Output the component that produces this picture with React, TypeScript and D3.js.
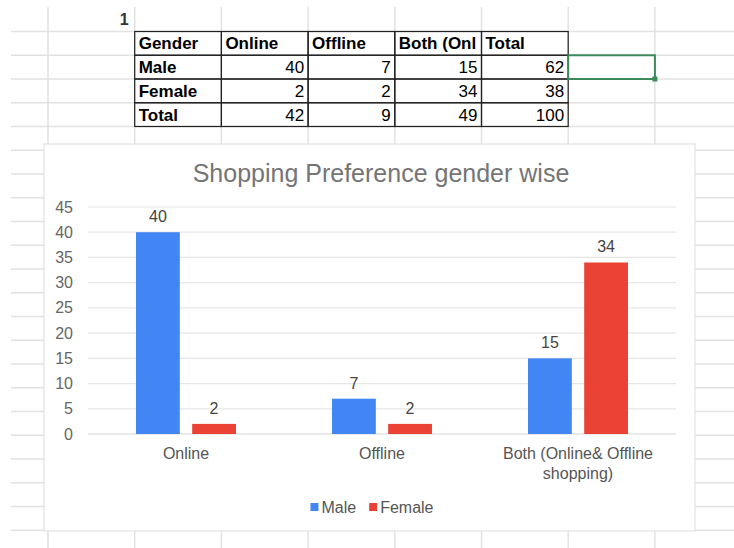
import React, { useEffect, useRef } from "react";
import * as d3 from "d3";

// chart data
const categories = ["Online", "Offline", "Both (Online& Offline shopping)"];
const categoryLines = [["Online"], ["Offline"], ["Both (Online& Offline", "shopping)"]];
const seriesNames = ["Male", "Female"];
const maleValues = [40, 7, 15];
const femaleValues = [2, 2, 34];
const yTicks = [0, 5, 10, 15, 20, 25, 30, 35, 40, 45];
const seriesColors = ["#4285f4", "#ea4335"];

// sheet table data
const cornerValue = "1";
const tableHeader = ["Gender", "Online", "Offline", "Both (Online& Offline shopping)", "Total"];
const tableRowLabels = ["Male", "Female", "Total"];
const tableMale = [40, 7, 15, 62];
const tableFemale = [2, 2, 34, 38];
const tableTotal = [42, 9, 49, 100];

const W = 734;
const H = 548;
const FONT = "'Liberation Sans', Arial, sans-serif";

const App = () => {
  const svgRef = useRef(null);

  useEffect(() => {
    const svg = d3.select(svgRef.current);
    svg.selectAll("*").remove();
    svg.append("rect").attr("width", W).attr("height", H).attr("fill", "#fff");

    // Spreadsheet grid
    const colX = d3.scaleLinear().domain([0, 1]).range([48, 134.7]);
    const rowY = d3.scaleLinear().domain([0, 1]).range([31.5, 55.25]);
    const grid = svg.append("g").attr("stroke", "#e2e2e2").attr("stroke-width", 1.5);
    d3.range(0, 22).forEach((k) =>
      grid.append("line").attr("x1", 11).attr("x2", W).attr("y1", rowY(k)).attr("y2", rowY(k))
    );
    d3.range(0, 8).forEach((i) =>
      grid.append("line").attr("x1", colX(i)).attr("x2", colX(i)).attr("y1", 7).attr("y2", H)
    );

    // Corner value
    svg
      .append("text")
      .attr("x", colX(1) - 6)
      .attr("y", 25)
      .attr("text-anchor", "end")
      .attr("font-family", FONT)
      .attr("font-size", 16)
      .attr("font-weight", "bold")
      .attr("fill", "#333")
      .text(cornerValue);

    // Table
    const table = svg.append("g").attr("font-family", FONT).attr("font-size", 17).attr("fill", "#000");
    tableHeader.forEach((h, i) => {
      const x0 = colX(i + 1);
      const x1 = colX(i + 2);
      const t = table
        .append("text")
        .attr("x", x0 + 4)
        .attr("y", rowY(1) - 6)
        .attr("font-weight", "bold")
        .text(h);
      // cut overflowing text at the cell edge, like the sheet does
      let s = h;
      while (s.length > 1 && t.node().getComputedTextLength() > x1 - x0 - 5) {
        s = s.slice(0, -1);
        t.text(s);
      }
    });
    [tableMale, tableFemale, tableTotal].forEach((row, r) => {
      table
        .append("text")
        .attr("x", colX(1) + 4)
        .attr("y", rowY(r + 2) - 6)
        .attr("font-weight", "bold")
        .text(tableRowLabels[r]);
      row.forEach((v, i) => {
        table
          .append("text")
          .attr("x", colX(i + 3) - 4)
          .attr("y", rowY(r + 2) - 6)
          .attr("text-anchor", "end")
          .text(v);
      });
    });
    const borders = svg.append("g").attr("fill", "none").attr("stroke", "#222").attr("stroke-width", 1.2);
    d3.range(0, 4).forEach((r) =>
      d3.range(0, 5).forEach((i) =>
        borders
          .append("rect")
          .attr("x", colX(i + 1))
          .attr("y", rowY(r))
          .attr("width", colX(i + 2) - colX(i + 1))
          .attr("height", rowY(r + 1) - rowY(r))
      )
    );

    // Selected cell
    svg
      .append("rect")
      .attr("x", colX(6))
      .attr("y", rowY(1))
      .attr("width", colX(7) - colX(6))
      .attr("height", rowY(2) - rowY(1))
      .attr("fill", "none")
      .attr("stroke", "#3b8a5c")
      .attr("stroke-width", 2);
    svg
      .append("rect")
      .attr("x", colX(7) - 2.5)
      .attr("y", rowY(2) - 2.5)
      .attr("width", 5)
      .attr("height", 5)
      .attr("fill", "#3b8a5c");

    // Chart box
    const box = { left: 44, top: 144, right: 695, bottom: 531 };
    svg
      .append("rect")
      .attr("x", box.left)
      .attr("y", box.top)
      .attr("width", box.right - box.left)
      .attr("height", box.bottom - box.top)
      .attr("fill", "#fff")
      .attr("stroke", "#dcdcdc");

    const plot = { left: 88, right: 676, top: 207, bottom: 434 };

    svg
      .append("text")
      .attr("x", (plot.left + plot.right) / 2 - 1)
      .attr("y", 182)
      .attr("text-anchor", "middle")
      .attr("font-family", FONT)
      .attr("font-size", 25)
      .attr("fill", "#757575")
      .text("Shopping Preference gender wise");

    const x0 = d3
      .scaleBand()
      .domain(categories)
      .range([plot.left, plot.right])
      .paddingInner(0.49)
      .paddingOuter(0.245);
    const x1 = d3.scaleBand().domain(seriesNames).range([0, x0.bandwidth()]).paddingInner(0.22);
    const y = d3.scaleLinear().domain([0, 45]).range([plot.bottom, plot.top]);

    // Gridlines and y labels
    const gy = svg.append("g");
    yTicks.forEach((t) => {
      gy.append("line")
        .attr("x1", plot.left)
        .attr("x2", plot.right)
        .attr("y1", y(t))
        .attr("y2", y(t))
        .attr("stroke", t === 0 ? "#d6d6d6" : "#e6e6e6")
        .attr("stroke-width", 1.2);
      gy.append("text")
        .attr("x", 73)
        .attr("y", y(t))
        .attr("dy", "0.35em")
        .attr("text-anchor", "end")
        .attr("font-family", FONT)
        .attr("font-size", 16)
        .attr("fill", "#666")
        .text(t);
    });

    // Bars
    const rows = categories.map((c, i) => ({ cat: c, values: [maleValues[i], femaleValues[i]] }));
    const groups = svg
      .selectAll(".grp")
      .data(rows)
      .enter()
      .append("g")
      .attr("class", "grp")
      .attr("transform", (d) => `translate(${x0(d.cat)},0)`);
    groups
      .selectAll("rect")
      .data((d) => d.values.map((v, s) => ({ s, v })))
      .enter()
      .append("rect")
      .attr("x", (d) => x1(seriesNames[d.s]))
      .attr("y", (d) => y(d.v))
      .attr("width", x1.bandwidth())
      .attr("height", (d) => plot.bottom - y(d.v))
      .attr("fill", (d) => seriesColors[d.s]);
    groups
      .selectAll("text")
      .data((d) => d.values.map((v, s) => ({ s, v })))
      .enter()
      .append("text")
      .attr("x", (d) => x1(seriesNames[d.s]) + x1.bandwidth() / 2)
      .attr("y", (d) => y(d.v) - 10)
      .attr("text-anchor", "middle")
      .attr("font-family", FONT)
      .attr("font-size", 16)
      .attr("fill", "#444")
      .text((d) => d.v);

    // X labels
    categories.forEach((c, i) => {
      categoryLines[i].forEach((line, j) => {
        svg
          .append("text")
          .attr("x", x0(c) + x0.bandwidth() / 2)
          .attr("y", 459 + j * 20)
          .attr("text-anchor", "middle")
          .attr("font-family", FONT)
          .attr("font-size", 16)
          .attr("fill", "#555")
          .text(line);
      });
    });

    // Legend
    const legend = svg.append("g");
    let cx = 0;
    seriesNames.forEach((name, s) => {
      legend
        .append("rect")
        .attr("x", cx)
        .attr("y", 503)
        .attr("width", 8)
        .attr("height", 8)
        .attr("fill", seriesColors[s]);
      const t = legend
        .append("text")
        .attr("x", cx + 11)
        .attr("y", 512.5)
        .attr("font-family", FONT)
        .attr("font-size", 16)
        .attr("fill", "#555")
        .text(name);
      cx += 11 + t.node().getComputedTextLength() + 13;
    });
    const lw = cx - 13;
    legend.attr("transform", `translate(${372 - lw / 2},0)`);
  }, []);

  return (
    <svg
      ref={svgRef}
      width={W}
      height={H}
      style={{ position: "absolute", left: 0, top: 0 }}
    ></svg>
  );
};

export default App;
